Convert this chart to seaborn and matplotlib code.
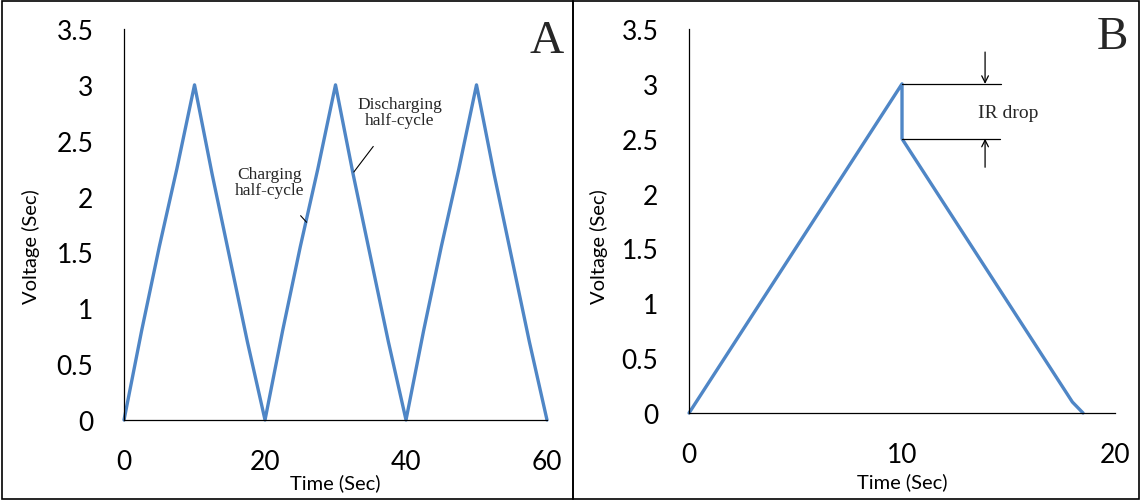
import matplotlib
matplotlib.use("Agg")
import matplotlib.pyplot as plt
from matplotlib.patches import Rectangle
import pandas as pd
import seaborn as sns

# Panel A: three charge/discharge cycles
time_a = [0, 2.5, 5, 7.5, 10, 12.5, 15, 17.5, 20,
          22.5, 25, 27.5, 30, 32.5, 35, 37.5, 40,
          42.5, 45, 47.5, 50, 52.5, 55, 57.5, 60]
volt_a = [0, 0.8, 1.55, 2.25, 3, 2.2, 1.45, 0.7, 0,
          0.8, 1.55, 2.25, 3, 2.2, 1.45, 0.7, 0,
          0.8, 1.55, 2.25, 3, 2.2, 1.45, 0.7, 0]

# Panel B: one cycle with IR drop
time_b = [0, 10, 10, 18, 18.5]
volt_b = [0, 3, 2.5, 0.1, 0]

yticks = [0, 0.5, 1, 1.5, 2, 2.5, 3, 3.5]
ytick_labels = ["0", "0.5", "1", "1.5", "2", "2.5", "3", "3.5"]

sns.set_theme(style="white")
plt.rcParams["font.family"] = ["Lato", "DejaVu Sans"]

BLUE = "#4F86C6"
SERIF = "Liberation Serif"

fig = plt.figure(figsize=(11.41, 5.02), dpi=100)
ax_a = fig.add_axes([0.1087, 0.1614, 0.3707, 0.7788])
ax_b = fig.add_axes([0.6039, 0.1753, 0.3733, 0.7649])

df_a = pd.DataFrame({"t": time_a, "v": volt_a})
df_b = pd.DataFrame({"t": time_b, "v": volt_b})
sns.lineplot(data=df_a, x="t", y="v", ax=ax_a, color=BLUE, lw=2.4,
             sort=False, estimator=None, clip_on=False)
sns.lineplot(data=df_b, x="t", y="v", ax=ax_b, color=BLUE, lw=2.4,
             sort=False, estimator=None, clip_on=False)

for ax, xt, xmax in [(ax_a, [0, 20, 40, 60], 60), (ax_b, [0, 10, 20], 20)]:
    ax.set_xlim(0, xmax)
    ax.set_ylim(0, 3.5)
    ax.set_xticks(xt)
    ax.set_xticklabels([str(v) for v in xt])
    ax.set_yticks(yticks)
    ax.set_yticklabels(ytick_labels)
    for s in ["top", "right"]:
        ax.spines[s].set_visible(False)
    for s in ["left", "bottom"]:
        ax.spines[s].set_color("black")
        ax.spines[s].set_linewidth(0.9)
    ax.tick_params(axis="both", length=0, labelsize=19, colors="black")
    ax.tick_params(axis="y", pad=22)
    ax.tick_params(axis="x", pad=21)
    ax.set_xlabel("Time (Sec)", fontsize=14.5, color="black", va="center")
    ax.set_ylabel("Voltage (Sec)", fontsize=14.5, color="black", va="center")
    ax.patch.set_alpha(0)

ax_a.xaxis.set_label_coords(0.5, -0.159)
ax_a.yaxis.set_label_coords(-0.22, 0.445)
ax_b.xaxis.set_label_coords(0.5, -0.177)
ax_b.yaxis.set_label_coords(-0.211, 0.435)

# panel letters
ax_a.text(1.0, 0.97, "A", transform=ax_a.transAxes, family=SERIF,
          fontsize=34, ha="center", va="center")
ax_b.text(0.995, 0.98, "B", transform=ax_b.transAxes, family=SERIF,
          fontsize=34, ha="center", va="center")

# annotations panel A
ax_a.annotate("Discharging\nhalf-cycle", xy=(32.6, 2.22), xytext=(39.1, 2.76),
              family=SERIF, fontsize=12.5, ha="center", va="center",
              linespacing=1.0,
              arrowprops=dict(arrowstyle="-", color="black", lw=0.8,
                              shrinkA=14, shrinkB=0))
ax_a.annotate("Charging\nhalf-cycle", xy=(25.9, 1.77), xytext=(20.7, 2.13),
              family=SERIF, fontsize=12.5, ha="center", va="center",
              linespacing=1.0,
              arrowprops=dict(arrowstyle="-", color="black", lw=0.8,
                              shrinkA=14, shrinkB=0))

# IR drop annotation panel B
ax_b.plot([10, 14.65], [3, 3], color="black", lw=0.9)
ax_b.plot([10, 14.6], [2.5, 2.5], color="black", lw=0.9)
ax_b.annotate("", xy=(13.9, 3), xytext=(13.9, 3.29),
              arrowprops=dict(arrowstyle="->", color="black", lw=0.9,
                              shrinkA=0, shrinkB=0))
ax_b.annotate("", xy=(13.9, 2.5), xytext=(13.9, 2.24),
              arrowprops=dict(arrowstyle="->", color="black", lw=0.9,
                              shrinkA=0, shrinkB=0))
ax_b.text(15.0, 2.74, "IR drop", family=SERIF, fontsize=14,
          ha="center", va="center")

# panel borders
fig.add_artist(Rectangle((0.002, 0.004), 0.4998, 0.992, transform=fig.transFigure,
                         fill=False, edgecolor="black", lw=1.2))
fig.add_artist(Rectangle((0.502, 0.004), 0.496, 0.992, transform=fig.transFigure,
                         fill=False, edgecolor="black", lw=1.2))

fig.savefig("out.png", dpi=100, facecolor="white")
